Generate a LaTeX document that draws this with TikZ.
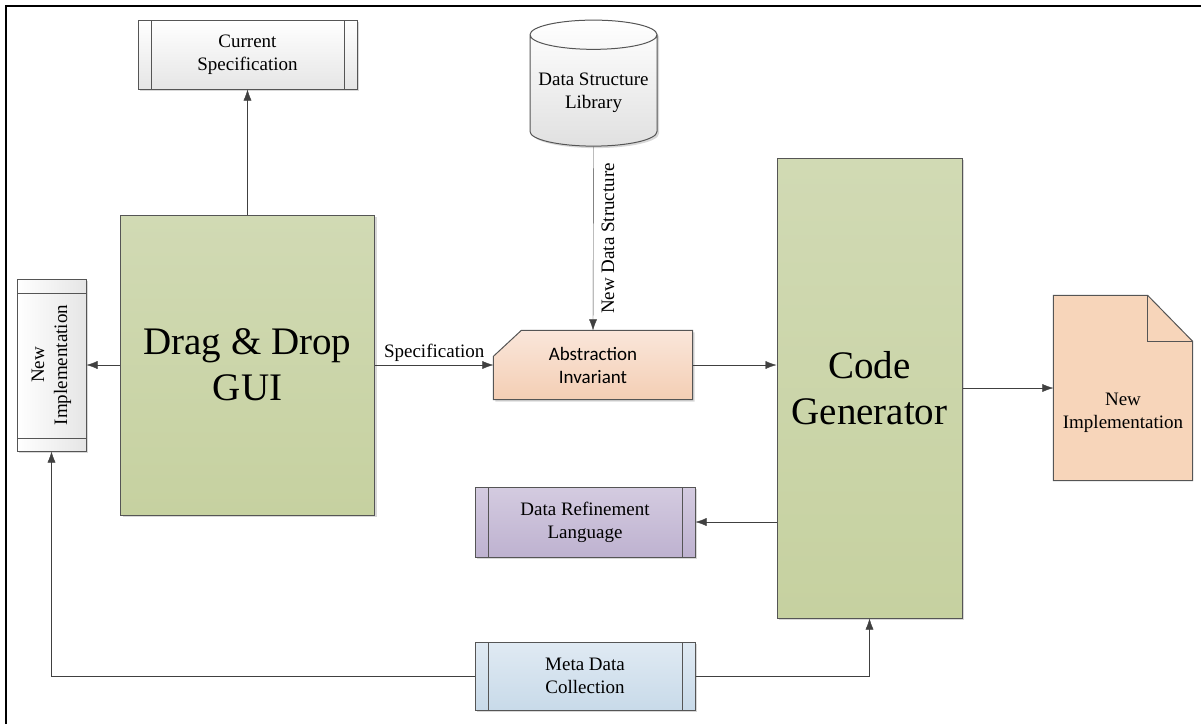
\documentclass[tikz,border=0pt]{standalone}
\usepackage{fontspec}
\setmainfont{Liberation Serif}
\newfontfamily\calibrifont{Carlito}
\usepackage{tikz}
\usetikzlibrary{arrows.meta,positioning,shapes.geometric,shadows,backgrounds}

\definecolor{edgegray}{RGB}{64,64,64}
\definecolor{boxline}{RGB}{85,85,85}
\definecolor{greentop}{RGB}{209,218,180}
\definecolor{greenbot}{RGB}{198,209,160}
\definecolor{peachtop}{RGB}{250,230,218}
\definecolor{peachbot}{RGB}{244,206,180}
\definecolor{docpeach}{RGB}{247,213,186}
\definecolor{purpletop}{RGB}{212,203,224}
\definecolor{purplebot}{RGB}{190,178,208}
\definecolor{bluetop}{RGB}{224,234,243}
\definecolor{bluebot}{RGB}{200,218,233}

\begin{document}
\begin{tikzpicture}[x=1pt,y=-1pt,->,>={Latex[length=11pt,width=8pt]},
                    line width=1.3pt,draw=edgegray,
                    font=\fontsize{19}{23}\selectfont]
  \tikzstyle{shade box}=[draw=boxline,line width=1pt,
        drop shadow={shadow xshift=2pt,shadow yshift=-2pt,fill=black!30}]
  \tikzstyle{big box}=[shade box,rectangle,top color=greentop,bottom color=greenbot,
        align=center,font=\fontsize{39}{46}\selectfont]
  \tikzstyle{subproc}=[shade box,rectangle,align=center,
        path picture={\draw[-,boxline,line width=1pt]
          ([xshift=13pt]path picture bounding box.north west) -- ([xshift=13pt]path picture bounding box.south west)
          ([xshift=-13pt]path picture bounding box.north east) -- ([xshift=-13pt]path picture bounding box.south east);}]
  \tikzstyle{subproc turned}=[shade box,rectangle,align=center,
        path picture={\draw[-,boxline,line width=1pt]
          ([yshift=-14pt]path picture bounding box.north west) -- ([yshift=-14pt]path picture bounding box.north east)
          ([yshift=13pt]path picture bounding box.south west) -- ([yshift=13pt]path picture bounding box.south east);}]

  \useasboundingbox (0,0) rectangle (1201,724);
  \draw[-,black,line width=2pt] (6,724) -- (6,6) -- (1201,6);

  \node[big box,minimum width=254pt,minimum height=300pt] (gui) at (247.5,365) {Drag \& Drop\\GUI};
  \node[big box,minimum width=185pt,minimum height=460pt] (codegen) at (869.5,388) {Code\\Generator};

  \node[subproc,top color=white,bottom color=black!10,minimum width=219pt,minimum height=69pt]
       (curspec) at (247.5,54.5) {Current\\Specification};
  \node[subproc turned,left color=white,right color=black!10,minimum width=69pt,minimum height=172pt]
       (oldimpl) at (51.5,365) {};
  \node[rotate=90,align=center] at (oldimpl.center) {New\\Implementation};

  \node[cylinder,shape border rotate=90,aspect=0.25,shade box,top color=white,bottom color=black!12,
        minimum width=127pt,minimum height=126pt,align=center] (dslib) at (593.5,93) {Data Structure\\Library};

  \node[align=center,minimum width=198pt,minimum height=68pt,
        font=\calibrifont\fontsize{19}{23}\selectfont] (absinv) at (593,365) {Abstraction\\Invariant};

  \node[subproc,top color=purpletop,bottom color=purplebot,minimum width=220pt,minimum height=70pt]
       (refine) at (585,522) {Data Refinement\\Language};
  \node[subproc,top color=bluetop,bottom color=bluebot,minimum width=220pt,minimum height=68pt]
       (metadata) at (585,676) {Meta Data\\Collection};

  \node[minimum width=138pt,minimum height=184pt,
        label={[align=center,yshift=-25pt]center:New\\Implementation}] (newimpl) at (1123,388) {};

  \begin{pgfonlayer}{background}
    \path[-,shade box,top color=peachtop,bottom color=peachbot]
         ([xshift=28pt]absinv.north west) -- (absinv.north east) -- (absinv.south east)
         -- (absinv.south west) -- ([yshift=-26pt]absinv.north west) -- cycle;
    \draw[-,boxline,line width=1pt,fill=docpeach]
         (newimpl.north west) -- ([xshift=-45pt]newimpl.north east)
         -- ([yshift=-46pt]newimpl.north east) -- (newimpl.south east) -- (newimpl.south west) -- cycle;
    \draw[-,boxline,line width=1pt] ([xshift=-45pt]newimpl.north east)
         -- ([xshift=-45pt,yshift=-46pt]newimpl.north east) -- ([yshift=-46pt]newimpl.north east);
  \end{pgfonlayer}

  \draw (gui.north) -- (curspec.south);
  \draw (gui.west) -- (oldimpl.east);
  \draw (gui.east) -- node[above,->] {Specification} (absinv.west);
  \draw (dslib.south) -- node[midway,rotate=90,anchor=north,inner sep=8pt] {New Data Structure} (absinv.north);
  \draw (absinv.east) -- (absinv.east -| codegen.west);
  \draw (codegen.east) -- (newimpl.west);
  \draw (codegen.west |- refine.east) -- (refine.east);
  \draw (metadata.west) -- (metadata.west -| oldimpl.south) -- (oldimpl.south);
  \draw (metadata.east) -- (metadata.east -| codegen.south) -- (codegen.south);
\end{tikzpicture}
\end{document}
